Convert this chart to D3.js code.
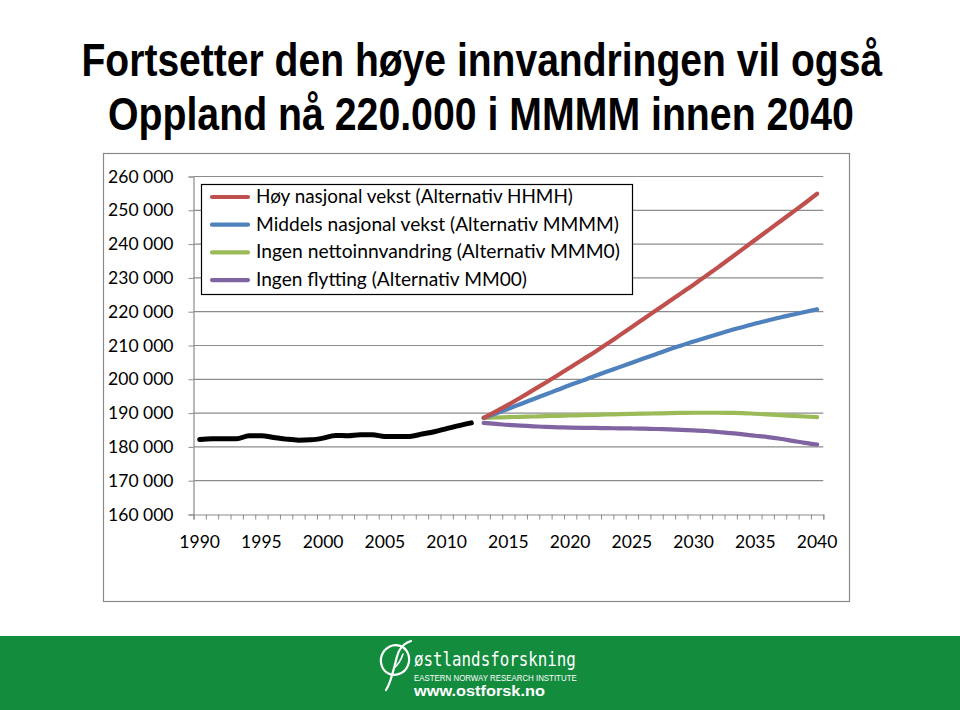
<!DOCTYPE html>
<html><head><meta charset="utf-8">
<script src="https://cdn.jsdelivr.net/npm/d3@7"></script>
<style>
html,body{margin:0;padding:0;background:#fff;}
svg{display:block;}
</style></head>
<body>
<svg id="c" width="960" height="710"></svg>
<script>
// ---- data ----
const titleLines = ["Fortsetter den høye innvandringen vil også", "Oppland nå 220.000 i MMMM innen 2040"];
const histYears = d3.range(1990, 2013);
const histValues = [182200,182400,182400,182400,183300,183300,182800,182300,182000,182100,182600,183400,183300,183600,183600,183100,183100,183100,183800,184500,185400,186300,187100];
const projYears = d3.range(2013, 2041);
const hhmh = [188600,190500,192500,194600,196800,199000,201200,203500,205800,208100,210500,213000,215500,218000,220500,223000,225500,228000,230600,233200,235900,238600,241300,244000,246700,249400,252100,254900];
const mmmm = [188600,189900,191300,192700,194100,195500,196900,198300,199600,201000,202300,203600,204900,206200,207500,208800,210000,211200,212300,213400,214500,215500,216500,217400,218300,219100,219900,220700];
const mmm0 = [188600,188700,188800,188900,189000,189100,189200,189300,189400,189500,189600,189700,189800,189850,189900,190000,190050,190100,190100,190100,190050,190000,189800,189600,189400,189200,189000,188800];
const mm00 = [187100,186800,186500,186300,186100,185900,185800,185700,185650,185600,185550,185500,185450,185400,185300,185200,185050,184900,184700,184400,184100,183700,183300,182900,182400,181800,181200,180700];
const seriesNames = ["Høy nasjonal vekst (Alternativ HHMH)","Middels nasjonal vekst (Alternativ MMMM)","Ingen nettoinnvandring (Alternativ MMM0)","Ingen flytting (Alternativ MM00)"];
const seriesColors = ["#C0504D","#4F81BD","#9BBB59","#8064A2"];
const yTicks = d3.range(160000, 260001, 10000);
const xLabelYears = d3.range(1990, 2041, 5);

const svg = d3.select("#c");
const font = "Lato, 'Open Sans', sans-serif";

// horizontally scale a text so that it spans the target width, keeping its height
function scaleToWidth(g, target) {
  const t = g.select("text");
  const w = t.node().getComputedTextLength();
  if (w > 0) t.attr("transform", `scale(${target / w},1)`);
}

// ---- title ----
const titleWidths = [801, 746];
const titleX = [81.5, 108];
titleLines.forEach((t, i) => {
  const g = svg.append("g").attr("transform", `translate(${titleX[i]},${[76, 130][i]})`);
  g.append("text")
    .style("font-family", "'Liberation Sans Narrow','Arial Narrow','Liberation Sans',sans-serif")
    .style("font-weight", "bold").style("font-size", "46px").style("fill", "#000")
    .text(t);
  scaleToWidth(g, titleWidths[i]);
});

// ---- chart frame ----
svg.append("rect").attr("x", 103.5).attr("y", 153.5).attr("width", 746).attr("height", 448)
  .attr("fill", "#fff").attr("stroke", "#8a8a8a").attr("stroke-width", 1.2);

// scales
const x = d3.scaleLinear().domain([1989.5, 2040.5]).range([193.5, 823.3]);
const y = d3.scaleLinear().domain([160000, 260000]).range([514.5, 176.5]);

// gridlines
svg.append("g").selectAll("line").data(yTicks.slice(1)).join("line")
  .attr("x1", x(1989.5)).attr("x2", x(2040.5))
  .attr("y1", d => y(d)).attr("y2", d => y(d))
  .attr("stroke", "#8c8c8c").attr("stroke-width", 1.2);

// y axis
const yAxis = svg.append("g").attr("transform", `translate(${x(1989.5)},0)`)
  .call(d3.axisLeft(y).tickValues(yTicks).tickSize(5).tickFormat(d => d3.format(",")(d).replace(",", " ")));
yAxis.select(".domain").attr("stroke", "#8c8c8c").attr("stroke-width", 1.2);
yAxis.selectAll(".tick line").attr("stroke", "#8c8c8c");
yAxis.selectAll(".tick text").attr("x", -20).style("font-family", font).style("font-size", "17.5px").style("fill", "#000");

// x axis ticks (between categories)
const edges = d3.range(1989.5, 2041, 1);
const xAxis = svg.append("g").attr("transform", `translate(0,${y(160000)})`)
  .call(d3.axisBottom(x).tickValues(edges).tickSize(5).tickFormat(""));
xAxis.select(".domain").attr("stroke", "#8c8c8c").attr("stroke-width", 1.2);
xAxis.selectAll(".tick line").attr("stroke", "#8c8c8c");

svg.append("g").selectAll("text").data(xLabelYears).join("text")
  .attr("x", d => x(d)).attr("y", 548).attr("text-anchor", "middle")
  .style("font-family", font).style("font-size", "17.5px").style("fill", "#000")
  .text(d => d);

// lines
const line = d3.line().x(d => x(d[0])).y(d => y(d[1])).curve(d3.curveMonotoneX);
const proj = [hhmh, mmmm, mmm0, mm00];
[3, 2, 1, 0].forEach(i => {
  svg.append("path").datum(projYears.map((yr, k) => [yr, proj[i][k]]))
    .attr("d", line).attr("fill", "none").attr("stroke", seriesColors[i])
    .attr("stroke-width", 4.2).attr("stroke-linecap", "round").attr("stroke-linejoin", "round");
});
svg.append("path").datum(histYears.map((yr, k) => [yr, histValues[k]]))
  .attr("d", line).attr("fill", "none").attr("stroke", "#000")
  .attr("stroke-width", 5).attr("stroke-linecap", "round").attr("stroke-linejoin", "round");

// legend
const lg = svg.append("g");
lg.append("rect").attr("x", 201.5).attr("y", 184.5).attr("width", 431).attr("height", 110)
  .attr("fill", "#fff").attr("stroke", "#000").attr("stroke-width", 1.2);
const legendW = [317, 363, 364, 271];
seriesNames.forEach((n, i) => {
  const yy = 197 + i * 27.7;
  lg.append("line").attr("x1", 212).attr("x2", 248).attr("y1", yy).attr("y2", yy)
    .attr("stroke", seriesColors[i]).attr("stroke-width", 4.2).attr("stroke-linecap", "round");
  const el = lg.append("text").attr("x", 256).attr("y", yy + 6)
    .style("font-family", font).style("font-size", "17px").style("fill", "#000").text(n);
  const w = el.node().getComputedTextLength();
  if (w > 0) el.style("font-size", (17 * legendW[i] / w).toFixed(2) + "px");
});

// ---- footer ----
svg.append("rect").attr("x", 0).attr("y", 636).attr("width", 960).attr("height", 74).attr("fill", "#138C3E");
const logo = svg.append("g");
logo.append("ellipse").attr("cx", 395).attr("cy", 660).attr("rx", 14).attr("ry", 15)
  .attr("fill", "none").attr("stroke", "#fff").attr("stroke-width", 2.2)
  .attr("transform", "rotate(20,395,660)");
logo.append("path").attr("d", "M411,641 C396,646 397,660 394,668 C392,676 390,684 386,690")
  .attr("fill", "none").attr("stroke", "#fff").attr("stroke-width", 2.2).attr("stroke-linecap", "round");
logo.append("path").attr("d", "M394,668 C399,664 401,660 403,654")
  .attr("fill", "none").attr("stroke", "#fff").attr("stroke-width", 1.6).attr("stroke-linecap", "round");
const footTexts = [
  {t: "østlandsforskning", y: 666, fam: "'DejaVu Sans Mono',monospace", fs: 19, fw: "normal", w: 162},
  {t: "EASTERN NORWAY RESEARCH INSTITUTE", y: 680.5, fam: "'Liberation Sans',sans-serif", fs: 9, fw: "normal", w: 163},
  {t: "www.ostforsk.no", y: 696, fam: "'Liberation Sans',Arial,sans-serif", fs: 15, fw: "bold", w: 131}
];
footTexts.forEach(f => {
  const g = logo.append("g").attr("transform", `translate(414,${f.y})`);
  g.append("text").style("font-family", f.fam).style("font-size", f.fs + "px")
    .style("font-weight", f.fw).style("fill", "#fff").text(f.t);
  scaleToWidth(g, f.w);
});
</script>
</body></html>
